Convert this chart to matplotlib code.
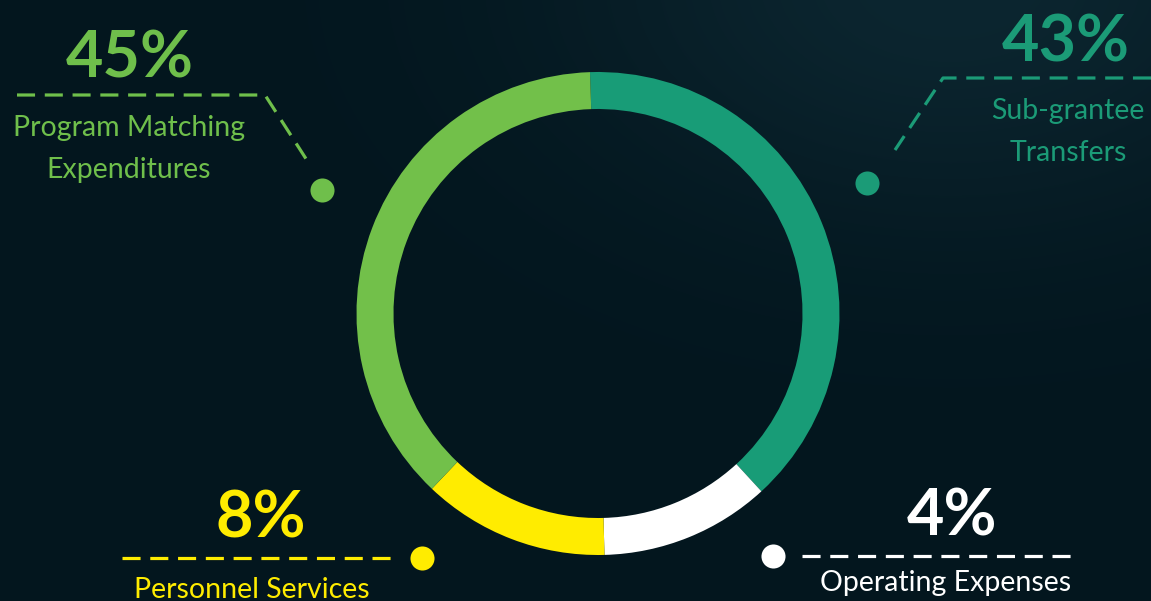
import numpy as np
import matplotlib.pyplot as plt

plt.rcParams['font.family'] = ['Lato', 'DejaVu Sans']
plt.rcParams['lines.scale_dashes'] = False

# Segment data (clockwise from top)
categories = ['Sub-grantee\nTransfers', 'Operating Expenses', 'Personnel Services',
              'Program Matching\nExpenditures']
percent_labels = [43, 4, 8, 45]
# share of the ring each arc takes as drawn in the graphic
arc_share = [38.7, 11.4, 12.5, 37.4]
colors = ['#189c77', '#ffffff', '#ffec00', '#72c04a']

W, H = 1151, 601
fig = plt.figure(figsize=(W / 100, H / 100), dpi=100)
ax = fig.add_axes([0, 0, 1, 1])

# dark background with a faint lighter patch top right
yy, xx = np.mgrid[0:H, 0:W]
glow = np.exp(-(((xx - 950) / 380) ** 2 + ((yy - (H + 20)) / 240) ** 2))
base = np.array([3, 22, 30]) / 255
light = np.array([12, 38, 48]) / 255
bg = base + glow[..., None] * (light - base)
ax.imshow(bg, extent=(0, W, 0, H), origin='lower', zorder=0)

cx, cy = 598, H - 313.5
ax.pie(arc_share, colors=colors, startangle=91.9, counterclock=False,
       radius=241.5, center=(cx, cy), frame=True,
       wedgeprops=dict(width=37, linewidth=0))

ax.set_xlim(0, W)
ax.set_ylim(0, H)
ax.set_aspect('auto')
ax.axis('off')

dash = (0, (13, 7))
lw = 2.3
pct_size = 46.5
lab_size = 20.5
dot = 300

# Sub-grantee Transfers (top right)
c = '#1b9b77'
ax.text(1066, H - 62, f'{percent_labels[0]}%', color=c, fontsize=pct_size,
        fontweight='bold', ha='center', va='baseline')
ax.plot([1151, 943, 895], [H - 78, H - 78, H - 150], color=c, lw=lw, linestyle=dash)
ax.scatter([867], [H - 183], s=dot, color=c, zorder=5, linewidths=0)
ax.text(1068, H - 132, categories[0], color=c, fontsize=lab_size, ha='center',
        va='center', linespacing=1.72)

# Program Matching Expenditures (top left)
c = '#6fbf4b'
ax.text(130, H - 77, f'{percent_labels[3]}%', color=c, fontsize=pct_size,
        fontweight='bold', ha='center', va='baseline')
ax.plot([17, 265, 310], [H - 95, H - 95, H - 165], color=c, lw=lw, linestyle=dash)
ax.scatter([322], [H - 190], s=dot, color=c, zorder=5, linewidths=0)
ax.text(129, H - 149, categories[3], color=c, fontsize=lab_size, ha='center',
        va='center', linespacing=1.72)

# Personnel Services (bottom left)
c = '#ffec00'
ax.text(261, H - 537, f'{percent_labels[2]}%', color=c, fontsize=pct_size,
        fontweight='bold', ha='center', va='baseline')
ax.plot([122, 395], [H - 558, H - 558], color=c, lw=lw, linestyle=dash)
ax.scatter([422], [H - 558], s=dot, color=c, zorder=5, linewidths=0)
ax.text(252, H - 590, categories[2], color=c, fontsize=lab_size, ha='center',
        va='center')

# Operating Expenses (bottom right)
c = '#ffffff'
ax.text(952, H - 535, f'{percent_labels[1]}%', color=c, fontsize=pct_size,
        fontweight='bold', ha='center', va='baseline')
ax.plot([802, 1076], [H - 556, H - 556], color=c, lw=lw, linestyle=dash)
ax.scatter([773], [H - 556], s=dot, color=c, zorder=5, linewidths=0)
ax.text(946, H - 583, categories[1], color=c, fontsize=lab_size, ha='center',
        va='center')

fig.savefig('out.png', dpi=100, facecolor='#04171f')
